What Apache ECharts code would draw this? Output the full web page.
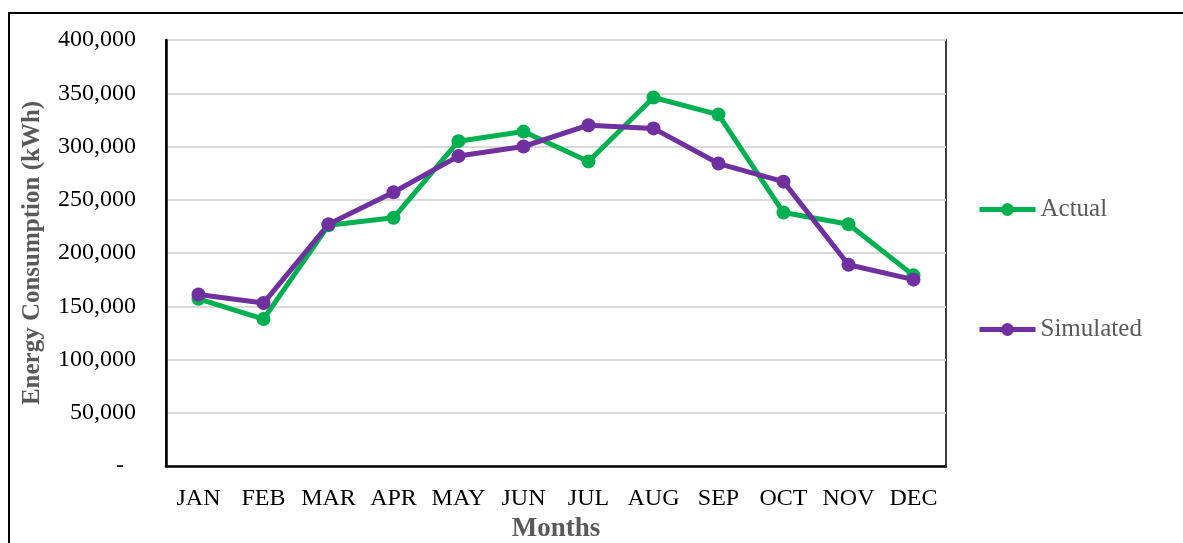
<!DOCTYPE html>
<html>
<head>
<meta charset="utf-8">
<script src="https://cdn.jsdelivr.net/npm/echarts@6/dist/echarts.min.js"></script>
<style>
  html, body { margin: 0; padding: 0; background: #fff; }
  #main { width: 1183px; height: 543px; }
</style>
</head>
<body>
<div id="main"></div>
<script>
// 数据
const months = ['JAN', 'FEB', 'MAR', 'APR', 'MAY', 'JUN', 'JUL', 'AUG', 'SEP', 'OCT', 'NOV', 'DEC'];
const actual = [157000, 138000, 226000, 233000, 305000, 314000, 286000, 346000, 330000, 238000, 227000, 179000];
const simulated = [161000, 153000, 227000, 257000, 291000, 300000, 320000, 317000, 284000, 267000, 189000, 175000];
const yMin = 0;
const yMax = 400000;
const yStep = 50000;

const serif = "'Palatino Linotype', 'Book Antiqua', Palatino, 'Liberation Serif', serif";

let myChart = echarts.init(document.getElementById('main'));

// 图例的公共样式
const legendBase = {
	orient: 'vertical',
	left: 972,
	itemWidth: 56, itemHeight: 16,
	lineStyle: { width: 5 },
	textStyle: { fontFamily: serif, fontSize: 25, color: '#595959' }
};

let option = {
	color: ['#00B050', '#7030A0'],
	textStyle: { fontFamily: serif },

	// 外框
	graphic: [{
		type: 'rect',
		shape: { x: 9, y: 13, width: 1200, height: 560 },
		style: { fill: 'none', stroke: '#000', lineWidth: 2 },
		silent: true
	}],

	grid: {
		left: 166, right: 237, top: 40, bottom: 77,
		outerBoundsMode: 'none',
		containLabel: false,
		show: true,
		borderColor: '#000',
		borderWidth: 1.5
	},

	legend: [
		Object.assign({ data: ['Actual'], top: 192 }, legendBase),
		Object.assign({ data: ['Simulated'], top: 312 }, legendBase)
	],

	xAxis: {
		type: 'category',
		data: months,
		boundaryGap: true,
		name: 'Months',
		nameLocation: 'middle',
		nameGap: 44,
		nameTextStyle: { fontFamily: serif, fontSize: 27, fontWeight: 'bold', color: '#595959' },
		axisLine: { lineStyle: { color: '#000', width: 2.5 } },
		axisTick: { show: false },
		axisLabel: { fontFamily: serif, fontSize: 24, color: '#000', margin: 21, interval: 0 }
	},

	yAxis: {
		type: 'value',
		min: yMin, max: yMax, interval: yStep,
		name: 'Energy Consumption (kWh)',
		nameLocation: 'middle',
		nameGap: 121,
		nameTextStyle: { fontFamily: serif, fontSize: 25, fontWeight: 'bold', color: '#595959' },
		axisLine: { show: true, lineStyle: { color: '#000', width: 2.5 } },
		axisTick: { show: false },
		splitLine: { lineStyle: { color: '#d9d9d9', width: 2 } },
		axisLabel: {
			fontFamily: serif, fontSize: 24, color: '#000', margin: 30,
			formatter: function (v) {
				if (v === 0) return '{z|-}';
				return v.toLocaleString('en-US');
			},
			rich: { z: { fontFamily: serif, fontSize: 24, color: '#000', padding: [0, 12, 0, 0] } }
		}
	},

	series: [{
		name: 'Actual',
		type: 'line',
		data: actual,
		symbol: 'circle',
		symbolSize: 14,
		lineStyle: { width: 5 }
	}, {
		name: 'Simulated',
		type: 'line',
		data: simulated,
		symbol: 'circle',
		symbolSize: 14,
		lineStyle: { width: 5 }
	}]
};

myChart.setOption(option);
</script>
</body>
</html>
